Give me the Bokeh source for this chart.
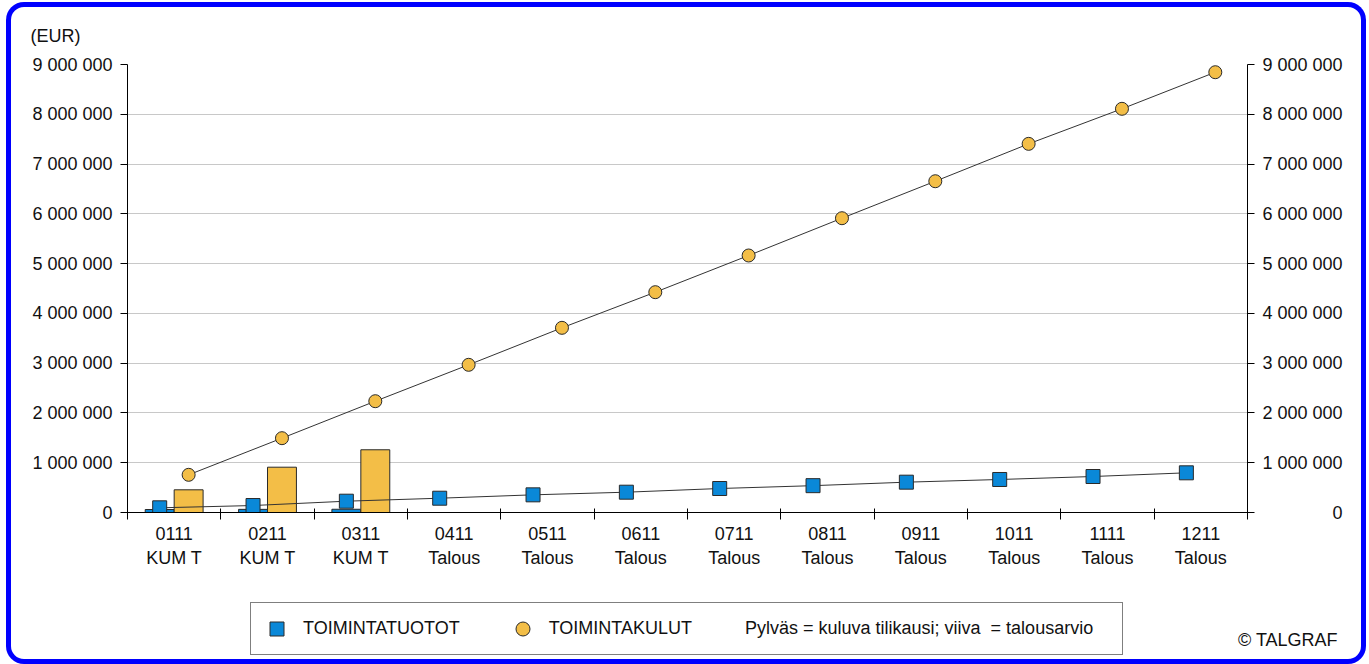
from bokeh.plotting import figure
from bokeh.layouts import column
from bokeh.models import (Range1d, LinearAxis, FixedTicker, Legend, LegendItem)
from bokeh.embed import file_html
from bokeh.resources import INLINE

# ---------------- data ----------------
months = ["0111", "0211", "0311", "0411", "0511", "0611",
          "0711", "0811", "0911", "1011", "1111", "1211"]
periods = ["KUM T", "KUM T", "KUM T", "Talous", "Talous", "Talous",
           "Talous", "Talous", "Talous", "Talous", "Talous", "Talous"]

# bars = current fiscal period (actuals)
tuotot_actual = [60000, 63000, 65000]
kulut_actual = [456000, 910000, 1260000]

# lines = budget
tuotot_budget = [94000, 140000, 227000, 287000, 355000, 408000,
                 482000, 539000, 609000, 663000, 723000, 797000]
kulut_budget = [757000, 1493000, 2236000, 2967000, 3710000, 4426000,
                5163000, 5912000, 6655000, 7406000, 8110000, 8845000]

y_ticks = [0, 1000000, 2000000, 3000000, 4000000, 5000000,
           6000000, 7000000, 8000000, 9000000]
y_tick_labels = ["0", "1 000 000", "2 000 000", "3 000 000", "4 000 000",
                 "5 000 000", "6 000 000", "7 000 000", "8 000 000", "9 000 000"]

series_names = ["TOIMINTATUOTOT", "TOIMINTAKULUT"]
note_text = "Pylväs = kuluva tilikausi; viiva\u00a0 = talousarvio"
unit_text = "(EUR)"
credit_text = "\u00a9 TALGRAF"

# ---------------- style ----------------
FONT = "Liberation Sans"
FS = "18px"
TXT = "#111111"
BLUE = "#0A88D8"
ORANGE = "#F3BE47"
EDGE = "#2A2A2A"
GRID = "#C8C8C8"

n = len(months)
centers = [i + 0.5 for i in range(n)]
off = 0.155
bw = 0.31

# ================= main chart =================
p = figure(width=1360, height=588,
           x_range=Range1d(0, n), y_range=Range1d(0, 9000000),
           output_backend="svg", toolbar_location=None,
           min_border_left=121, min_border_right=119,
           min_border_top=62, min_border_bottom=78,
           background_fill_color="white", border_fill_alpha=0,
           outline_line_color=None)

# (EUR) unit caption as title
p.title.text = unit_text
p.title.align = "left"
p.title.offset = -97
p.title.standoff = 38
p.title.text_font = FONT
p.title.text_font_size = FS
p.title.text_font_style = "normal"
p.title.text_color = TXT

# bars
p.vbar(x=[c - off for c in centers[:len(tuotot_actual)]], top=tuotot_actual,
       bottom=0, width=bw, fill_color=BLUE, line_color=EDGE, line_width=1)
p.vbar(x=[c + off for c in centers[:len(kulut_actual)]], top=kulut_actual,
       bottom=0, width=bw, fill_color=ORANGE, line_color=EDGE, line_width=1)

# budget lines
p.line(x=[c - off for c in centers], y=tuotot_budget, line_color="#333333", line_width=1)
p.line(x=[c + off for c in centers], y=kulut_budget, line_color="#333333", line_width=1)
p.scatter(x=[c - off for c in centers], y=tuotot_budget, marker="square",
          size=14, fill_color=BLUE, line_color=EDGE, line_width=1)
p.scatter(x=[c + off for c in centers], y=kulut_budget, marker="circle",
          size=13, fill_color=ORANGE, line_color=EDGE, line_width=1)

# x axis: ticks at category boundaries (minor), labels at centres (major)
xa = p.xaxis[0]
xa.ticker = FixedTicker(ticks=centers, minor_ticks=[float(i) for i in range(n + 1)])
xa.major_label_overrides = {c: f"{m}\n{k}" for c, m, k in zip(centers, months, periods)}
xa.major_tick_in = 0
xa.major_tick_out = 0
xa.minor_tick_in = 4
xa.minor_tick_out = 7
xa.minor_tick_line_color = "black"
xa.axis_line_color = "black"
xa.major_label_standoff = 4
xa.major_label_text_font = FONT
xa.major_label_text_font_size = FS
xa.major_label_text_color = TXT

# left y axis
ya = p.yaxis[0]
ya.ticker = FixedTicker(ticks=y_ticks, minor_ticks=[])
ya.major_label_overrides = {t: l for t, l in zip(y_ticks, y_tick_labels)}
ya.major_tick_in = 0
ya.major_tick_out = 7
ya.major_tick_line_color = "black"
ya.axis_line_color = "black"
ya.major_label_standoff = 8
ya.major_label_text_font = FONT
ya.major_label_text_font_size = FS
ya.major_label_text_color = TXT

# right y axis (labels right aligned via figure-space padding)
def pad(lbl, width=9):
    missing = width - len(lbl)
    if missing <= 0:
        return lbl
    return "\u2007" * max(0, missing - 2) + "\u2008" * min(2, missing) + lbl

ra = LinearAxis(ticker=FixedTicker(ticks=y_ticks, minor_ticks=[]))
ra.major_label_overrides = {t: pad(l) for t, l in zip(y_ticks, y_tick_labels)}
ra.major_tick_in = 0
ra.major_tick_out = 7
ra.major_tick_line_color = "black"
ra.axis_line_color = "black"
ra.major_label_standoff = 8
ra.major_label_text_font = FONT
ra.major_label_text_font_size = FS
ra.major_label_text_color = TXT
p.add_layout(ra, "right")

p.xgrid.visible = False
p.ygrid.ticker = FixedTicker(ticks=y_ticks, minor_ticks=[])
p.ygrid.grid_line_color = GRID
p.ygrid.grid_line_width = 1

# ================= legend strip =================
q = figure(width=1360, height=74, x_range=Range1d(0, 1), y_range=Range1d(0, 1),
           output_backend="svg", toolbar_location=None,
           x_axis_type=None, y_axis_type=None, min_border=0,
           background_fill_alpha=0, border_fill_alpha=0, outline_line_color=None)
q.xgrid.visible = False
q.ygrid.visible = False

base_x = 0
if "frame_align" in q.properties():
    q.frame_align = False
    p.frame_align = False
else:
    base_x = -121

# legend proxies (their single point lies far outside this strip's ranges)
lg_sq = q.scatter(x=[centers[0]], y=[tuotot_budget[0]], marker="square", size=14,
                  fill_color=BLUE, line_color=EDGE, line_width=1)
lg_ci = q.scatter(x=[centers[0]], y=[kulut_budget[0]], marker="circle", size=13,
                  fill_color=ORANGE, line_color=EDGE, line_width=1)
lg_sp = q.scatter(x=[centers[0]], y=[kulut_budget[0]], marker="circle", size=0,
                  fill_alpha=0, line_alpha=0)

text_kw = dict(label_text_font=FONT, label_text_font_size=FS,
               label_text_color=TXT, label_text_baseline="middle")

legend = Legend(items=[LegendItem(label=series_names[0], renderers=[lg_sq]),
                       LegendItem(label=series_names[1], renderers=[lg_ci]),
                       LegendItem(label="\u2003" * 18 + "\u2002", renderers=[lg_sp])],
                orientation="horizontal", location=(244 + base_x, 9),
                border_line_color="black", border_line_width=1,
                background_fill_color="white", background_fill_alpha=1,
                padding=8, spacing=45, label_standoff=9, margin=0,
                glyph_width=35, glyph_height=35, **text_kw)
q.add_layout(legend, "center")

note_leg = Legend(items=[LegendItem(label=note_text, renderers=[lg_sp])],
                  location=(738 + base_x, 25), border_line_color=None,
                  background_fill_alpha=0, padding=0, margin=0,
                  glyph_width=1, glyph_height=20, label_height=20,
                  label_standoff=0, **text_kw)
q.add_layout(note_leg, "center")

credit_leg = Legend(items=[LegendItem(label=credit_text, renderers=[lg_sp])],
                    location=(1231 + base_x, 13), border_line_color=None,
                    background_fill_alpha=0, padding=0, margin=0,
                    glyph_width=1, glyph_height=20, label_height=20,
                    label_standoff=0, **text_kw)
q.add_layout(credit_leg, "center")

page = column(p, q, spacing=0,
              styles={"margin": "2px 0px 0px 6px",
                      "box-shadow": "inset 0px 0px 0px 5px #0000FF",
                      "border-radius": "18px"})

open("out.html", "w").write(file_html(page, INLINE))
